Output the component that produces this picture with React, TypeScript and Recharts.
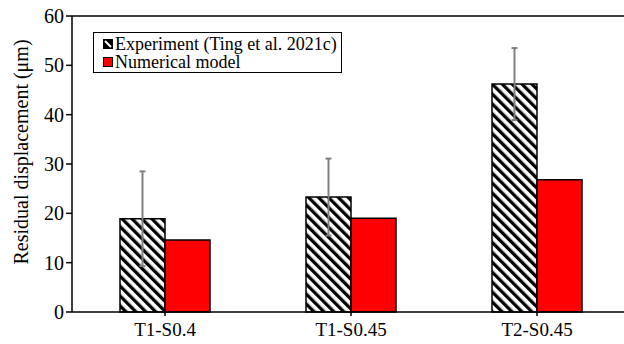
import { BarChart, Bar, XAxis, YAxis, ReferenceLine, ErrorBar } from 'recharts';

// Residual displacement per specimen
const specimens = ['T1-S0.4', 'T1-S0.45', 'T2-S0.45'];
const experiment = [18.9, 23.3, 46.2];
const experimentErr = [9.6, 7.8, 7.3];
const numerical = [14.6, 19.0, 26.8];
const yTicks = [0, 10, 20, 30, 40, 50, 60];

const data = specimens.map((name, i) => ({
  name,
  experiment: experiment[i],
  experimentErr: experimentErr[i],
  numerical: numerical[i],
}));

const FONT = 'Liberation Serif';

function LegendBox() {
  return (
    <div
      style={{
        position: 'absolute',
        left: 93,
        top: 32,
        border: '1.5px solid #000',
        background: '#fff',
        padding: '2px 0 2px 9px',
        fontFamily: FONT,
        fontSize: 18,
        lineHeight: '18px',
        color: '#000',
        boxSizing: 'border-box',
        width: 249,
        height: 41,
        whiteSpace: 'nowrap',
      }}
    >
      <div style={{ display: 'flex', alignItems: 'center', height: 18 }}>
        <svg width={10} height={10} style={{ marginRight: 2 }}>
          <rect x={0.5} y={0.5} width={9} height={9} fill="#000" stroke="#000" />
          <line x1={2} y1={2} x2={8} y2={8} stroke="#fff" strokeWidth={2} />
        </svg>
        <span>Experiment (Ting et al. 2021c)</span>
      </div>
      <div style={{ display: 'flex', alignItems: 'center', height: 18 }}>
        <svg width={10} height={10} style={{ marginRight: 2 }}>
          <rect x={0.5} y={0.5} width={9} height={9} fill="#ff0000" stroke="#000" />
        </svg>
        <span>Numerical model</span>
      </div>
    </div>
  );
}

// rotated axis title, sitting a bit above the plot's middle
const yTitle = () => (
  <text
    transform="translate(21,152) rotate(-90)"
    textAnchor="middle"
    dominantBaseline="central"
    fill="#000"
    fontSize={20}
    fontFamily={FONT}
  >
    Residual displacement (μm)
  </text>
);

export default function App() {
  return (
    <div style={{ position: 'absolute', left: 0, top: 0, width: 624, height: 344, fontFamily: FONT }}>
      <BarChart
        width={624}
        height={344}
        data={data}
        margin={{ top: 16, right: -6, left: 0, bottom: 0 }}
        barSize={45}
        barGap={0}
      >
        <defs>
          <pattern
            id="hatch"
            patternUnits="userSpaceOnUse"
            width={7}
            height={7}
            patternTransform="rotate(-45)"
          >
            <rect width={7} height={7} fill="#fff" />
            <rect width={3.3} height={7} fill="#000" />
          </pattern>
        </defs>
        <XAxis
          dataKey="name"
          height={32}
          axisLine={{ stroke: '#000', strokeWidth: 1.5 }}
          tickLine={{ stroke: '#000', strokeWidth: 1.5 }}
          tickSize={4}
          tickMargin={7}
          tick={{ fill: '#000', fontSize: 19, fontFamily: FONT }}
        />
        <YAxis
          domain={[0, 60]}
          ticks={yTicks}
          width={72}
          axisLine={{ stroke: '#000', strokeWidth: 1.5 }}
          tickLine={{ stroke: '#000', strokeWidth: 1.5 }}
          tickSize={6}
          tickMargin={2}
          tick={{ fill: '#000', fontSize: 20, fontFamily: FONT }}
          label={yTitle}
        />
        <ReferenceLine y={60} stroke="#000" strokeWidth={1.5} />
        <Bar
          dataKey="experiment"
          fill="url(#hatch)"
          stroke="#000"
          strokeWidth={1.5}
          isAnimationActive={false}
        >
          <ErrorBar dataKey="experimentErr" width={3} stroke="#808080" strokeWidth={2} />
        </Bar>
        <Bar
          dataKey="numerical"
          fill="#ff0000"
          stroke="#000"
          strokeWidth={1.5}
          isAnimationActive={false}
        />
      </BarChart>
      <LegendBox />
    </div>
  );
}
